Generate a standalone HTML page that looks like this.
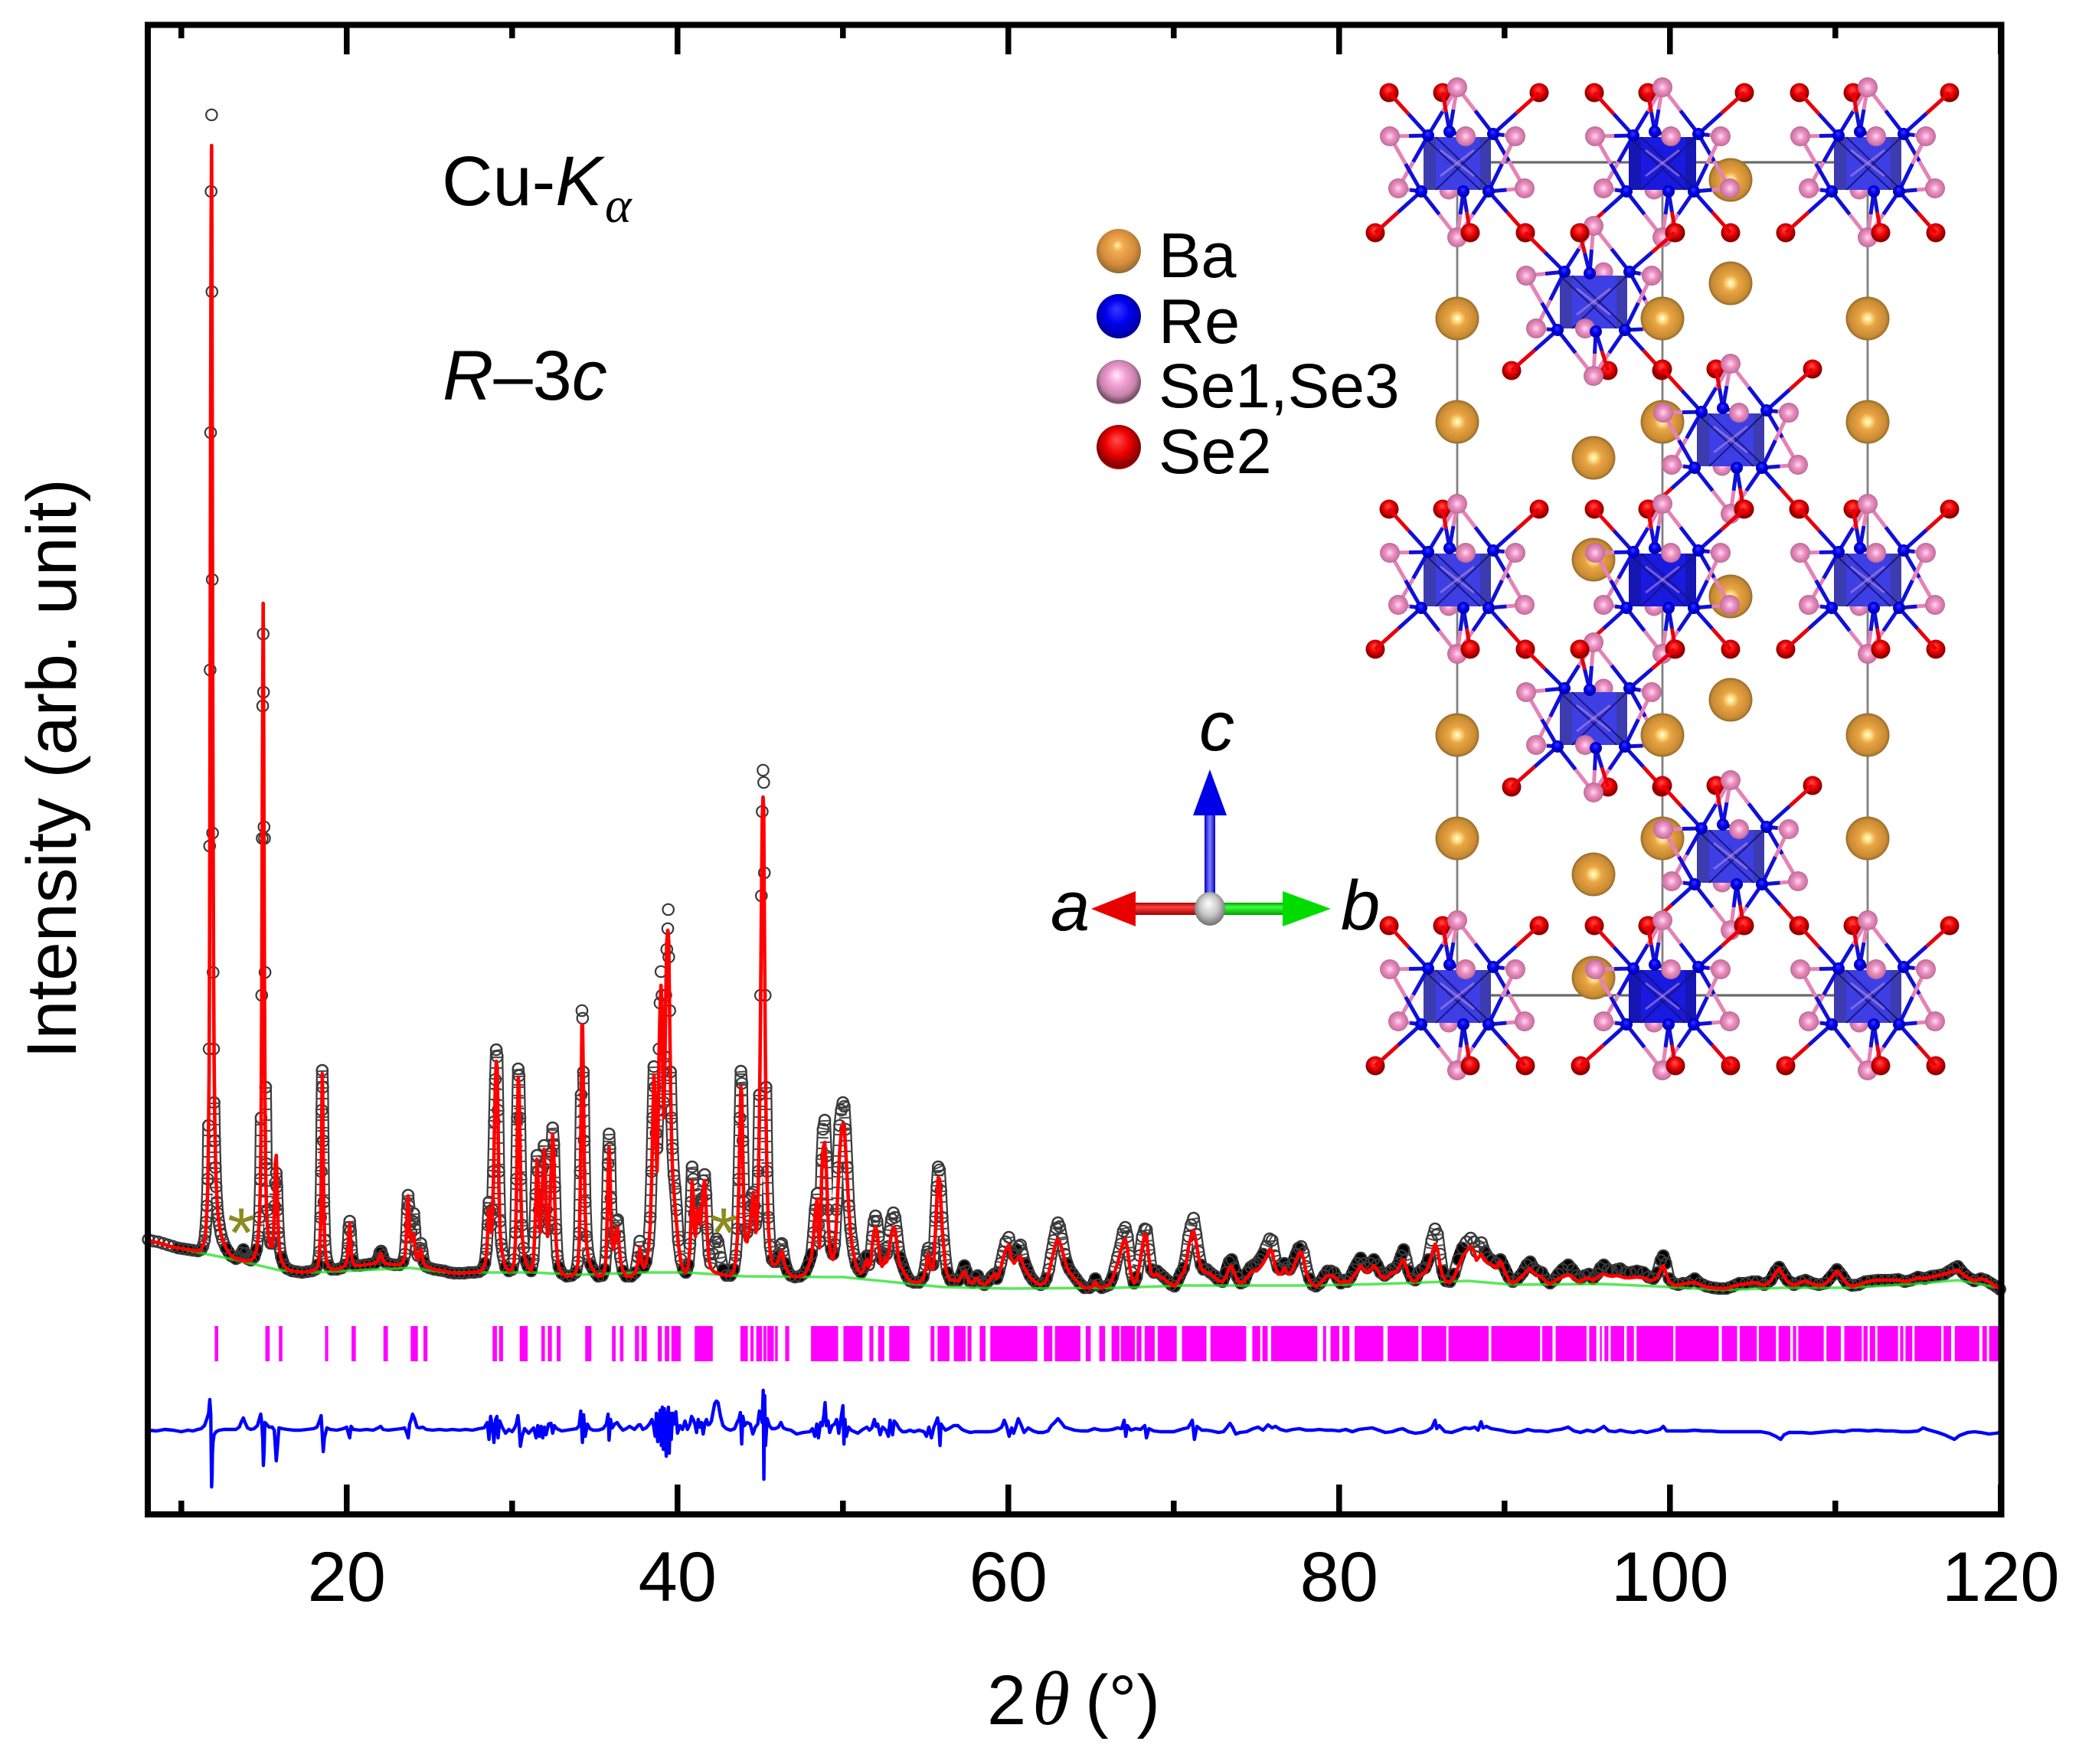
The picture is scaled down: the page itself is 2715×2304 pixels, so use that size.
<!DOCTYPE html>
<html lang="en">
<head>
<meta charset="utf-8">
<title>Rietveld refinement of powder X-ray diffraction pattern</title>
<style>
html,body{margin:0;padding:0;background:#fff;}
svg{display:block;}
text{font-family:"Liberation Sans",sans-serif;fill:#000;}
.it{font-style:italic;}
.serif{font-family:"Liberation Serif",serif;font-style:italic;}
</style>
</head>
<body>
<svg id="chart" xmlns="http://www.w3.org/2000/svg" width="2715" height="2304" viewBox="0 0 2715 2304">
  <defs>
    <radialGradient id="gBa" cx=".5" cy=".45" r=".55" fx=".47" fy=".36"><stop offset="0" stop-color="#fff6b0"/><stop offset=".22" stop-color="#f3ad52"/><stop offset=".7" stop-color="#d58a3a"/><stop offset="1" stop-color="#8f6a34"/></radialGradient>
    <radialGradient id="gBaS" cx=".5" cy=".5" r=".52"><stop offset="0" stop-color="#fffff4"/><stop offset=".14" stop-color="#ffe38a"/><stop offset=".36" stop-color="#eaa544"/><stop offset=".82" stop-color="#c88a32"/><stop offset="1" stop-color="#86622a"/></radialGradient>
    <radialGradient id="gRe" cx=".5" cy=".48" r=".55" fx=".45" fy=".33"><stop offset="0" stop-color="#3a3aff"/><stop offset=".5" stop-color="#0000f0"/><stop offset="1" stop-color="#000090"/></radialGradient>
    <radialGradient id="gSe1" cx=".5" cy=".45" r=".55" fx=".45" fy=".33"><stop offset="0" stop-color="#fff0fa"/><stop offset=".35" stop-color="#f6a2d8"/><stop offset=".72" stop-color="#c583aa"/><stop offset=".95" stop-color="#6d4a62"/><stop offset="1" stop-color="#e9a0cc"/></radialGradient>
    <radialGradient id="gSe1S" cx=".5" cy=".5" r=".52"><stop offset="0" stop-color="#ffdcef"/><stop offset=".42" stop-color="#ee92c6"/><stop offset=".85" stop-color="#cc74a2"/><stop offset="1" stop-color="#a86888"/></radialGradient>
    <radialGradient id="gSe2" cx=".5" cy=".45" r=".55" fx=".45" fy=".33"><stop offset="0" stop-color="#ff5050"/><stop offset=".5" stop-color="#f00000"/><stop offset=".92" stop-color="#7e0000"/><stop offset="1" stop-color="#d00000"/></radialGradient>
    <radialGradient id="gGray" cx=".5" cy=".45" r=".55" fx=".45" fy=".33"><stop offset="0" stop-color="#ffffff"/><stop offset=".55" stop-color="#c8c8c8"/><stop offset="1" stop-color="#707070"/></radialGradient>
    <linearGradient id="gRedRod" x1="0" y1="0" x2="0" y2="1"><stop offset="0" stop-color="#a00000"/><stop offset=".35" stop-color="#ff4040"/><stop offset="1" stop-color="#a00000"/></linearGradient>
    <linearGradient id="gGreenRod" x1="0" y1="0" x2="0" y2="1"><stop offset="0" stop-color="#00a000"/><stop offset=".35" stop-color="#40ff40"/><stop offset="1" stop-color="#00a000"/></linearGradient>
    <linearGradient id="gBlueRod" x1="0" y1="0" x2="1" y2="0"><stop offset="0" stop-color="#0000c0"/><stop offset=".5" stop-color="#8080ff"/><stop offset="1" stop-color="#0000c0"/></linearGradient>
  </defs>

  <g id="structure"></g>
  <g id="series"></g>

  <rect x="193" y="32.5" width="2420.5" height="1945.5" fill="none" stroke="#000" stroke-width="8"/>
  <g id="axes"></g>

  <text transform="translate(99,1004) rotate(-90)" text-anchor="middle" font-size="91.5">Intensity (arb. unit)</text>
  <text x="1289" y="2252" font-size="92">2<tspan class="serif" x="1348" font-size="100">θ</tspan><tspan x="1417">(°)</tspan></text>

  <text x="577" y="268" font-size="92">Cu-<tspan class="it">K</tspan></text>
  <text class="serif" x="790" y="290" font-size="66">α</text>
  <text x="578" y="522" font-size="92"><tspan class="it">R</tspan>–3<tspan class="it">c</tspan></text>

  <text x="315" y="1642" text-anchor="middle" font-size="92" style="fill:#8b8b1e">*</text>
  <text x="945" y="1642" text-anchor="middle" font-size="92" style="fill:#8b8b1e">*</text>

  <g>
    <circle cx="1461" cy="328" r="29" fill="url(#gBa)"/>
    <circle cx="1461" cy="413" r="29" fill="url(#gRe)"/>
    <circle cx="1461" cy="499" r="29" fill="url(#gSe1)"/>
    <circle cx="1461" cy="584" r="29" fill="url(#gSe2)"/>
    <text x="1513" y="362" font-size="83">Ba</text>
    <text x="1513" y="448" font-size="83">Re</text>
    <text x="1513" y="532" font-size="82">Se1,Se3</text>
    <text x="1513" y="618" font-size="83">Se2</text>
  </g>

  <g>
    <rect x="1573" y="1064" width="14" height="104" fill="url(#gBlueRod)"/>
    <polygon points="1580,1005 1602,1065 1558,1065" fill="#0000e8"/>
    <rect x="1482" y="1179" width="84" height="16" fill="url(#gRedRod)"/>
    <polygon points="1425,1187 1483,1164 1483,1210" fill="#e80000"/>
    <rect x="1594" y="1179" width="82" height="16" fill="url(#gGreenRod)"/>
    <polygon points="1738,1187 1675,1164 1675,1210" fill="#00dc00"/>
    <ellipse cx="1580" cy="1187" rx="20" ry="22" fill="url(#gGray)"/>
    <text class="it" x="1566" y="980" font-size="92">c</text>
    <text class="it" x="1372" y="1215" font-size="92">a</text>
    <text class="it" x="1751" y="1214" font-size="92">b</text>
  </g>
</svg>

<script>
const twoTheta = [8.0,8.3,8.6,8.9,9.2,9.5,9.8,10.1,10.4,10.7,11.0,11.2,11.3,11.4,11.45,11.5,11.55,11.6,11.64,11.68,11.71,11.74,11.77,11.8,11.83,11.85,11.87,11.89,11.92,11.95,11.98,12.02,12.06,12.1,12.15,12.2,12.3,12.4,12.5,12.7,13.0,13.3,13.5,13.65,13.75,13.85,14.0,14.2,14.4,14.55,14.65,14.72,14.78,14.82,14.86,14.89,14.92,14.95,14.97,15.0,15.03,15.06,15.1,15.15,15.22,15.3,15.4,15.5,15.58,15.64,15.68,15.74,15.78,15.82,15.88,15.95,16.05,16.2,16.4,16.7,17,17.3,17.6,17.9,18.1,18.25,18.35,18.42,18.46,18.49,18.52,18.55,18.58,18.62,18.68,18.76,18.9,19.1,19.4,19.7,19.9,20.02,20.08,20.13,20.18,20.23,20.29,20.36,20.5,20.8,21.1,21.4,21.7,21.9,22,22.08,22.17,22.3,22.6,22.9,23.2,23.4,23.52,23.6,23.66,23.71,23.76,23.82,23.9,23.98,24.06,24.12,24.2,24.3,24.4,24.48,24.56,24.66,24.8,25,25.3,25.6,25.9,26.2,26.5,26.8,27.1,27.4,27.7,28,28.2,28.35,28.45,28.53,28.6,28.66,28.73,28.8,28.86,28.92,28.98,29.04,29.1,29.15,29.2,29.27,29.35,29.45,29.6,29.8,30,30.12,30.2,30.26,30.31,30.37,30.42,30.47,30.53,30.6,30.7,30.82,30.95,31.15,31.28,31.36,31.43,31.5,31.57,31.63,31.7,31.78,31.85,31.93,32,32.07,32.14,32.22,32.3,32.38,32.45,32.52,32.58,32.65,32.73,32.83,33,33.3,33.6,33.85,33.98,34.06,34.12,34.17,34.22,34.26,34.31,34.36,34.42,34.5,34.6,34.75,34.95,35.2,35.45,35.6,35.68,35.74,35.8,35.86,35.91,35.97,36.03,36.12,36.2,36.3,36.38,36.46,36.55,36.7,36.9,37.2,37.45,37.6,37.72,37.82,37.95,38.1,38.25,38.35,38.43,38.5,38.57,38.63,38.7,38.76,38.82,38.88,38.94,39,39.06,39.12,39.17,39.23,39.29,39.35,39.41,39.44,39.47,39.53,39.58,39.64,39.7,39.78,39.86,39.95,40.05,40.2,40.35,40.5,40.65,40.75,40.82,40.88,40.95,41.02,41.08,41.16,41.24,41.33,41.4,41.48,41.56,41.64,41.72,41.8,41.9,42,42.15,42.28,42.36,42.45,42.6,42.75,42.95,43.2,43.4,43.52,43.62,43.7,43.77,43.83,43.89,43.95,44.02,44.1,44.2,44.32,44.42,44.5,44.58,44.65,44.72,44.8,44.88,44.95,45.02,45.07,45.12,45.17,45.21,45.25,45.3,45.35,45.42,45.5,45.6,45.72,45.85,46,46.12,46.22,46.3,46.38,46.5,46.65,46.85,47.1,47.4,47.7,47.9,48.1,48.22,48.32,48.44,48.52,48.58,48.65,48.72,48.8,48.9,49,49.1,49.2,49.3,49.4,49.5,49.6,49.7,49.8,49.9,50,50.08,50.16,50.26,50.36,50.46,50.56,50.66,50.8,50.95,51.1,51.25,51.38,51.46,51.56,51.68,51.78,51.88,51.97,52.06,52.16,52.26,52.36,52.46,52.56,52.64,52.74,52.84,52.94,53.05,53.15,53.25,53.35,53.45,53.55,53.7,53.85,54.05,54.3,54.6,54.85,55,55.1,55.16,55.24,55.34,55.44,55.52,55.6,55.68,55.76,55.84,55.92,56,56.1,56.2,56.32,56.5,56.7,57,57.2,57.34,57.46,57.65,57.85,58,58.15,58.3,58.55,58.8,59,59.15,59.3,59.42,59.55,59.7,59.85,60.03,60.2,60.35,60.5,60.62,60.74,60.86,61,61.15,61.3,61.5,61.7,61.95,62.15,62.3,62.45,62.6,62.75,62.9,63,63.1,63.25,63.4,63.55,63.7,63.9,64.1,64.3,64.6,64.9,65.1,65.26,65.4,65.65,65.9,66.1,66.3,66.45,66.6,66.8,66.95,67.07,67.2,67.32,67.45,67.6,67.75,67.95,68.1,68.25,68.35,68.5,68.65,68.8,69,69.2,69.4,69.6,69.85,70.05,70.25,70.45,70.6,70.75,70.9,71.05,71.2,71.35,71.5,71.65,71.8,72,72.2,72.45,72.7,72.95,73.15,73.35,73.5,73.65,73.85,74.05,74.25,74.45,74.65,74.85,75,75.2,75.4,75.6,75.8,75.95,76.1,76.3,76.5,76.7,76.85,77,77.2,77.4,77.55,77.7,77.85,78,78.2,78.4,78.6,78.85,79.1,79.3,79.5,79.7,79.9,80.1,80.3,80.5,80.7,80.9,81.1,81.3,81.5,81.7,81.9,82.1,82.3,82.5,82.75,83,83.2,83.4,83.6,83.75,83.9,84.05,84.2,84.4,84.6,84.8,85,85.2,85.4,85.6,85.8,85.95,86.1,86.25,86.45,86.7,86.95,87.2,87.45,87.7,87.95,88.15,88.3,88.45,88.6,88.8,89,89.25,89.5,89.75,90,90.25,90.5,90.8,91.1,91.35,91.55,91.75,92,92.25,92.5,92.75,93,93.25,93.5,93.85,94.1,94.35,94.6,94.85,95.1,95.35,95.6,95.8,96,96.25,96.5,96.8,97,97.3,97.6,98,98.4,98.7,99,99.25,99.45,99.6,99.75,99.95,100.2,100.5,100.8,101.1,101.5,101.8,102.2,102.6,103,103.4,103.8,104.2,104.6,105,105.3,105.7,106.1,106.4,106.6,106.8,107.1,107.5,107.9,108.2,108.6,109,109.4,109.8,110.1,110.4,110.7,111,111.4,111.8,112.2,112.6,113,113.4,113.8,114.2,114.6,115,115.4,115.8,116.2,116.6,116.9,117.2,117.4,117.7,118,118.4,118.8,119.1,119.4,119.7,119.95];
const obsCounts = [81,79,78,76,74,72,70,69,68,67,66,68,72,80,90,104,125,160,230,330,595,825,1135,1450,1550,1319,943,612,430,330,260,210,175,150,130,115,100,88,80,70,60,56,58,64,68,63,56,54,58,68,85,110,160,240,400,605,778,872,796,620,605,430,280,180,120,90,76,76,95,125,155,168,150,120,90,70,58,48,43,40,39,38,39,40,42,48,65,110,170,250,302,280,210,130,80,58,47,42,42,44,48,58,75,97,105,92,68,54,47,47,48,49,50,56,64,66,60,52,49,48,48,52,62,85,120,139,125,100,90,105,115,95,68,60,70,76,66,52,46,44,42,41,40,38,37,37,37,38,38,39,42,50,68,100,130,118,100,120,170,235,290,329,320,250,170,105,75,60,45,40,42,55,90,160,240,304,295,240,160,100,70,54,46,40,55,90,140,191,170,120,105,140,175,204,180,120,95,105,150,195,227,205,150,95,60,45,37,33,34,38,52,90,170,270,380,370,300,210,130,85,62,48,40,33,34,42,65,115,180,219,200,135,90,75,88,105,107,85,58,40,33,33,38,58,79,60,45,52,75,110,170,240,307,280,220,200,250,330,390,431,400,300,260,320,400,460,487,512,450,380,300,240,200,165,148,120,80,55,42,38,48,75,130,176,160,115,95,120,140,130,110,135,158,166,140,95,62,50,62,78,82,78,58,42,34,34,42,60,95,160,240,301,285,210,130,95,90,105,125,140,143,125,100,110,170,270,400,530,640,694,678,560,400,280,170,110,72,55,52,52,60,74,76,66,50,40,34,32,33,38,48,62,90,120,141,100,78,120,185,225,237,190,120,85,68,62,75,120,175,230,250,260,255,225,175,125,95,78,62,48,42,38,45,58,60,48,60,85,105,112,105,85,65,55,62,70,62,72,92,108,116,110,92,72,58,52,42,34,27,25,25,32,48,65,70,62,50,48,70,110,150,176,172,145,110,80,55,38,28,28,28,38,47,40,27,25,32,34,26,22,27,33,36,30,38,50,65,78,84,65,60,68,72,74,62,50,42,34,28,24,22,24,30,42,62,80,96,103,98,82,62,50,42,36,30,24,18,18,21,30,22,18,20,22,32,44,58,75,92,97,85,60,38,24,32,60,85,95,94,68,42,38,40,36,32,28,22,20,28,38,44,60,85,100,109,88,65,48,42,42,38,34,28,26,38,52,55,44,32,24,26,38,45,48,50,55,62,72,82,80,60,44,42,50,45,42,50,62,70,72,64,46,30,22,20,24,34,40,40,38,30,24,28,26,32,42,50,57,50,44,50,55,48,38,34,38,42,44,50,60,68,55,40,30,28,38,42,44,55,80,95,88,62,40,27,26,36,55,70,78,83,78,65,72,77,65,58,54,50,55,44,32,26,30,38,48,52,44,40,38,28,24,28,36,42,48,42,34,30,34,36,30,36,44,48,42,40,42,43,38,38,40,38,32,30,38,54,60,50,30,24,22,24,24,30,24,20,18,17,17,20,24,24,26,26,22,28,40,45,38,28,22,26,28,24,22,24,34,42,34,24,21,22,26,27,28,28,28,29,26,28,32,30,33,34,36,40,44,46,38,32,27,30,28,24,20,16];
const calcCounts = [80,78,77,75,73,71,70,69,68,67,66,68,72,79,88,100,120,150,210,300,480,800,1150,1400,1510,1380,1150,900,620,430,320,240,190,160,135,118,100,88,80,70,60,56,55,54,54,53,53,54,58,68,85,108,150,220,380,610,790,912,830,600,400,260,170,120,95,80,72,72,90,130,180,191,165,120,85,65,54,47,42,40,39,38,39,40,42,46,62,100,165,240,298,270,190,120,72,54,46,42,42,44,47,55,70,92,102,86,62,52,47,47,48,49,50,54,60,63,56,50,49,48,48,52,60,85,120,138,115,90,78,86,88,72,58,55,62,69,60,50,46,44,42,41,40,38,37,37,37,38,38,39,42,48,62,92,122,110,90,105,150,215,280,314,305,235,150,92,70,58,45,40,42,52,80,140,220,293,280,220,140,88,65,52,45,40,52,85,130,186,160,105,90,120,160,199,170,110,85,95,135,185,219,195,130,82,58,45,37,33,34,38,50,80,150,250,362,360,280,190,115,75,58,47,40,33,34,42,60,105,165,202,180,115,78,68,78,95,97,75,53,40,33,33,38,50,71,54,44,50,70,100,155,230,296,270,205,170,230,320,380,413,390,280,240,300,400,470,485,480,470,360,280,210,170,145,120,100,75,52,42,38,46,70,110,158,140,95,85,105,122,115,100,125,150,158,125,85,55,44,40,38,37,37,36,35,34,34,40,55,85,145,220,281,270,190,110,80,78,90,110,128,143,115,90,95,150,240,380,510,630,659,645,500,350,240,150,95,65,50,48,50,56,64,66,58,46,40,34,32,33,36,45,58,85,115,134,90,70,100,170,200,208,170,110,70,58,55,65,100,150,195,220,233,230,200,160,120,90,72,60,46,40,37,42,52,55,45,50,75,92,97,92,72,52,46,50,58,52,58,75,90,97,95,78,58,48,44,38,32,27,25,25,30,42,58,63,52,42,42,60,95,135,162,160,130,95,70,45,34,28,28,27,34,40,34,25,24,30,30,24,22,26,32,36,30,36,44,58,68,74,55,50,55,58,59,50,42,38,32,28,24,22,24,28,38,52,66,78,82,78,68,54,44,38,33,28,23,18,18,20,26,20,18,20,22,30,40,50,66,78,82,70,48,32,24,28,50,72,88,86,56,36,34,36,32,30,26,22,20,26,34,38,50,72,85,93,78,58,44,40,38,36,32,27,26,32,44,46,38,28,24,26,32,38,40,40,44,50,58,68,66,48,36,36,44,38,36,42,54,62,65,56,38,28,22,20,23,30,34,34,32,28,24,27,25,28,34,40,47,42,38,42,47,42,34,30,34,38,38,44,50,55,46,34,28,26,32,36,38,46,62,75,68,48,34,26,25,32,45,58,66,72,66,54,58,62,54,50,48,44,53,40,28,24,28,34,40,43,38,34,32,26,23,26,30,32,35,32,28,26,30,31,27,32,34,36,34,33,34,33,31,31,32,31,28,28,32,42,47,38,26,22,21,23,24,25,22,19,18,17,17,20,22,23,25,24,21,27,38,43,36,26,21,25,27,23,21,23,32,40,32,23,20,22,25,27,28,28,28,28,26,28,31,30,32,34,36,38,40,41,36,31,27,30,28,24,20,16];
const bkgTheta = [8,10.56,13.2,15.9,18,23.85,26,28.6,31.3,33.9,37.9,40.6,44,49,50,56,60,66.6,70.6,78.5,82.5,87.8,90.5,95.9,99.1,103.2,106.7,110.7,114.8,117.4,119.9];
const bkgCounts = [80,66,55,41,38,44,38,38,38,35,38,38,33,32,32,19,17,18,21,21,23,27,22,23,20,15,18,18,23,28,18];
const diffTheta = [8,8.5,9,9.5,10,10.4,10.7,11,11.2,11.4,11.55,11.65,11.72,11.78,11.83,11.86,11.88,11.92,11.98,12.1,12.3,12.6,13,13.3,13.5,13.65,13.75,13.85,14,14.2,14.4,14.6,14.72,14.8,14.86,14.92,14.96,15,15.05,15.15,15.3,15.5,15.62,15.68,15.74,15.8,15.9,16.1,16.4,16.8,17.2,17.6,18,18.2,18.35,18.45,18.52,18.58,18.65,18.8,19,19.4,19.8,20,20.1,20.18,20.26,20.4,20.8,21.2,21.6,21.9,22.05,22.2,22.5,22.9,23.3,23.5,23.62,23.72,23.8,23.9,23.98,24.1,24.25,24.4,24.6,24.8,25.2,25.6,26,26.4,26.8,27.2,27.6,28,28.3,28.5,28.6,28.7,28.8,28.9,29,29.08,29.15,29.25,29.4,29.6,29.8,30,30.15,30.25,30.35,30.42,30.5,30.6,30.75,31,31.3,31.45,31.55,31.65,31.75,31.85,31.95,32.05,32.2,32.35,32.45,32.55,32.7,33,33.3,33.6,33.9,34.05,34.15,34.25,34.32,34.42,34.55,34.7,34.9,35.2,35.5,35.7,35.8,35.86,35.95,36.05,36.2,36.35,36.5,36.7,36.9,37.1,37.4,37.65,37.75,37.9,38.1,38.3,38.45,38.55,38.65,38.72,38.8,38.88,38.95,39.02,39.08,39.14,39.2,39.26,39.32,39.38,39.45,39.5,39.56,39.62,39.7,39.8,39.9,40,40.15,40.3,40.45,40.6,40.75,40.85,40.95,41.05,41.15,41.25,41.35,41.45,41.55,41.65,41.75,41.85,41.95,42.05,42.15,42.25,42.35,42.45,42.6,42.75,42.95,43.2,43.45,43.6,43.72,43.8,43.88,43.95,44.05,44.2,44.4,44.55,44.7,44.85,44.95,45.05,45.12,45.18,45.22,45.27,45.32,45.42,45.55,45.7,45.9,46.1,46.25,46.4,46.6,46.85,47.2,47.6,48,48.15,48.3,48.42,48.52,48.65,48.75,48.85,48.92,49,49.1,49.2,49.35,49.5,49.62,49.75,49.9,50,50.06,50.12,50.2,50.35,50.5,50.7,50.9,51.2,51.45,51.6,51.75,51.9,52,52.1,52.25,52.4,52.6,52.75,52.85,53,53.1,53.25,53.4,53.6,53.8,54.05,54.3,54.6,54.9,55.05,55.2,55.35,55.5,55.62,55.72,55.8,55.87,55.93,56.05,56.2,56.4,56.7,56.95,57.2,57.4,57.7,58,58.3,58.6,58.9,59.2,59.4,59.6,59.75,59.9,60.05,60.2,60.32,60.45,60.6,60.75,60.95,61.2,61.5,61.8,62.1,62.4,62.6,62.8,63,63.2,63.4,63.7,64,64.4,64.8,65.2,65.6,66,66.3,66.6,66.85,67,67.1,67.2,67.4,67.7,68,68.25,68.35,68.5,68.8,69.2,69.6,70,70.3,70.6,70.85,71,71.12,71.25,71.4,71.7,72,72.3,72.7,73,73.2,73.4,73.55,73.75,74,74.4,74.8,75.1,75.4,75.7,75.95,76.15,76.45,76.8,77.2,77.6,78,78.4,78.8,79.2,79.6,80,80.4,80.8,81.2,81.6,82,82.4,82.8,83.2,83.6,83.85,84.2,84.6,85,85.3,85.6,85.8,85.9,86.05,86.4,86.8,87.2,87.6,87.9,88.2,88.4,88.58,88.7,88.9,89.2,89.5,89.8,90.2,90.6,91,91.4,91.8,92.2,92.6,93,93.4,93.85,94.2,94.6,95,95.4,95.8,96,96.3,96.7,97,97.4,97.8,98.2,98.6,99,99.4,99.6,99.8,100.2,100.6,101,101.5,102,102.5,103,103.5,104,104.5,105,105.5,106,106.4,106.7,106.9,107.2,107.6,108,108.5,109,109.5,110,110.5,111,111.5,112,112.5,113,113.5,114,114.5,115,115.3,115.7,116.2,116.6,117,117.2,117.5,118,118.4,118.8,119.3,119.7,120];
const diffCounts = [0,-1,1,0,-2,0,-1,1,2,6,15,22,40,20,-74,-60,-30,-15,-6,-2,0,1,1,1,4,12,16,10,3,1,2,6,15,21,10,-10,-46,-30,10,8,4,4,0,-20,-40,-25,3,2,1,0,0,1,2,4,12,19,-5,-28,-10,3,1,0,2,4,-4,-10,5,1,0,1,0,3,5,1,0,1,2,3,-3,-10,8,14,21,15,4,3,4,1,0,1,0,1,0,1,0,2,3,10,-12,18,6,-16,14,18,-10,12,4,-4,1,-2,3,8,19,5,-21,-8,2,-4,3,-10,6,-8,5,-10,4,-6,8,9,-4,6,2,-1,0,1,2,6,25,-16,20,-8,8,2,0,0,2,8,21,-13,14,3,8,10,5,0,2,5,1,7,7,1,3,8,14,6,-8,22,-15,10,26,-20,30,-25,28,-10,-34,18,30,-30,22,-12,22,8,24,-4,6,1,12,1,8,18,14,8,-3,14,4,10,-5,9,14,7,8,12,24,35,38,36,18,6,2,0,2,10,15,23,-18,18,6,10,8,-5,4,8,25,20,10,52,-64,45,-20,15,6,2,2,4,10,3,1,0,-5,-3,-2,2,-8,8,-10,10,6,20,36,6,12,-3,6,8,14,-4,18,32,-18,14,-8,4,0,-2,-4,1,4,0,3,14,5,8,-6,4,0,-8,13,-6,12,8,2,-2,-2,0,-2,0,-2,-8,4,-10,4,10,16,6,-20,8,4,0,2,6,6,1,-1,-3,-2,-2,-2,-2,-1,1,4,13,5,-8,3,-4,4,15,8,-3,3,-1,-3,-3,-1,6,10,15,10,4,2,0,-1,-1,2,0,0,1,3,2,13,-8,6,0,2,1,6,-10,2,-1,-2,-2,-2,0,2,3,8,13,-12,5,0,0,-1,-3,-2,3,9,4,-5,-3,-2,2,4,0,7,3,5,1,-1,1,2,0,0,1,0,0,-1,1,-2,1,2,3,0,-3,-2,1,2,-2,-4,-3,-1,3,13,2,6,-2,-3,0,3,2,4,0,11,3,5,2,1,0,-2,-3,-2,1,-1,-1,-2,0,1,4,-1,-3,0,-2,2,5,-1,-2,0,-2,-3,-1,-3,-1,1,5,-1,-1,-1,-1,0,-1,-1,-2,-2,-2,-2,-2,-2,-4,-8,-12,-6,-3,-3,-3,-4,-3,-2,-1,-2,0,0,-1,0,-1,-1,-2,-2,-1,3,0,-3,-6,-10,-12,-7,-3,-2,-3,-5,-4,-3];
const reflStart = [12.02,15.08,15.9,18.69,20.29,22.22,23.87,24.64,28.82,29.21,30.46,31.77,32.16,32.7,34.42,36.04,36.52,37.43,37.82,38.81,39.23,39.63,41.04,43.8,44.41,44.76,45.19,45.42,45.9,46.51,48.07,50.03,51.6,52.13,52.8,55.3,55.72,56.7,57.53,58.27,58.91,62.15,62.82,64.68,65.5,66.24,66.8,67.76,68.24,69.03,70.5,72.22,74.75,75.36,75.89,79.03,79.48,80.2,80.94,82.93,84.98,86.61,89.2,92.28,93.09,95.12,95.77,96.04,96.42,97.39,97.98,100.33,103.14,104.22,105.38,106.57,107.44,107.76,109.46,110.54,111.7,112.08,112.54,113.92,114.24,114.79,116.54,117.22,118.89,119.3];
const reflEnd = [12.23,15.34,16.11,18.88,20.55,22.49,24.3,24.88,29.08,29.45,30.94,31.98,32.4,32.93,34.79,36.26,36.73,37.67,38.14,39.05,39.5,40.19,42.13,44.25,44.6,45.11,45.37,45.82,46.06,46.75,49.71,51.18,51.84,52.5,54.02,55.53,56.44,57.42,57.77,58.62,61.75,62.66,64.36,64.98,65.85,66.72,67.65,68.05,68.85,70.18,71.98,74.38,75.23,75.68,78.68,79.21,80.01,80.62,82.67,84.79,86.48,89.04,92.15,92.9,94.96,95.55,95.88,96.28,97.23,97.82,100.2,102.95,104.06,105.25,106.41,107.28,107.63,109.3,110.33,111.6,111.95,112.41,113.79,114.11,114.65,116.4,117,118.7,119.16,120];
const majorTicks = [20,40,60,80,100,120];
const minorTicks = [10,30,50,70,90,110];
const tickLabels = ["20","40","60","80","100","120"];

const SVGNS = 'http://www.w3.org/2000/svg';
function mk(tag, attrs, parent) {
  const e = document.createElementNS(SVGNS, tag);
  for (const k in attrs) e.setAttribute(k, attrs[k]);
  parent.appendChild(e);
  return e;
}
function xScale(v) { return 452.8 + (v - 20) * 21.6; }
function yScale(v) { return 1700 - v; }
function diffScale(v) { return 1868 - v; }
function pathOf(xs, ys, fy) {
  let d = '';
  const n = Math.min(xs.length, ys.length);
  for (let i = 0; i < n; i++) d += (i ? 'L' : 'M') + xScale(xs[i]).toFixed(2) + ' ' + fy(ys[i]).toFixed(1);
  return d;
}

/* axes */
const axesG = document.getElementById('axes');
function drawTick(v, len, name) {
  const x = xScale(v);
  [[1976, -len], [34, len]].forEach(function (s) {
    const tick = mk('line', {x1:x, x2:x, y1:s[0], y2:s[0] + s[1], stroke:'#000', 'stroke-width':7.5}, axesG);
    
    
  });
}
majorTicks.forEach(function (v) { drawTick(v, 37, 'x-major-tick'); });
minorTicks.forEach(function (v) { drawTick(v, 16, 'x-minor-tick'); });
tickLabels.forEach(function (label, i) {
  const t = mk('text', {x:xScale(majorTicks[i]), y:2091, 'text-anchor':'middle', 'font-size':92}, axesG);
  
  
  t.textContent = label;
});

/* series */
const seriesG = document.getElementById('series');
const nPts = Math.min(twoTheta.length, obsCounts.length, calcCounts.length);

let bandD = '', stackD = '';
for (let i = 1; i < nPts; i++) {
  const x0 = xScale(twoTheta[i - 1]), x1 = xScale(twoTheta[i]);
  const y0 = yScale(obsCounts[i - 1]), y1 = yScale(obsCounts[i]);
  const top = Math.max(obsCounts[i - 1], obsCounts[i]);
  const seg = 'M' + x0.toFixed(2) + ' ' + y0.toFixed(1) + 'L' + x1.toFixed(2) + ' ' + y1.toFixed(1);
  if (top < 72 && Math.abs(y1 - y0) <= 3.5 * Math.abs(x1 - x0)) bandD += seg;
  else if (top < 330) stackD += seg;
}
const stackOuter = mk('path', {d:stackD, fill:'none', stroke:'#3a3a3a', 'stroke-width':16, 'stroke-linecap':'round'}, seriesG);


const stackInner = mk('path', {d:stackD, fill:'none', stroke:'#fff', 'stroke-width':11.5, 'stroke-linecap':'round'}, seriesG);


const stackRungs = mk('path', {d:stackD, fill:'none', stroke:'#4a4a4a', 'stroke-width':15, 'stroke-dasharray':'2 12'}, seriesG);


const band = mk('path', {d:bandD, fill:'none', stroke:'#000', 'stroke-width':16, 'stroke-linecap':'round'}, seriesG);



const obsG = mk('g', {fill:'none', stroke:'#3a3a3a', 'stroke-width':2.2}, seriesG);


for (let i = 0; i < nPts; i++) {
  const c = mk('circle', {cx:xScale(twoTheta[i]).toFixed(2), cy:yScale(obsCounts[i]).toFixed(1), r:7.2}, obsG);
  
  
}

const bkgLine = mk('path', {d:pathOf(bkgTheta, bkgCounts, yScale), fill:'none', stroke:'#22e022', 'stroke-opacity':.75, 'stroke-width':3.5}, seriesG);



const calcLine = mk('path', {d:pathOf(twoTheta, calcCounts, yScale), fill:'none', stroke:'#ff0000', 'stroke-width':4.6, 'stroke-linejoin':'round'}, seriesG);



const reflG = mk('g', {fill:'#ff00ff'}, seriesG);


reflStart.forEach(function (s, i) {
  const x0 = xScale(s), x1 = xScale(reflEnd[i]);
  const r = mk('rect', {x:x0.toFixed(2), y:1732, width:(x1 - x0).toFixed(2), height:46}, reflG);
  
  
});

const diffLine = mk('path', {d:pathOf(diffTheta, diffCounts, diffScale), fill:'none', stroke:'#0000ff', 'stroke-width':4.4, 'stroke-linejoin':'round'}, seriesG);



/* crystal structure inset */
const sG = document.getElementById('structure');
const latticeX = [1903, 2171, 2439];
const latticeY = [212, 1300];
latticeX.forEach(function (x) {
  const l = mk('line', {x1:x, x2:x, y1:latticeY[0], y2:latticeY[1], stroke:'#808080', 'stroke-width':2.8}, sG);
  
  
});
latticeY.forEach(function (y) {
  const l = mk('line', {x1:latticeX[0], x2:latticeX[2], y1:y, y2:y, stroke:'#6a6a6a', 'stroke-width':3.2}, sG);
  
  
});

const baBack = [[2260,235],[2260,370],[2081,598],[2081,731],[1903,416],[2439,416],[1903,551],[2171,551],[2439,551],[2260,779],[2260,914],[2081,1142],[2081,1277],[1903,960],[2439,960],[1903,1095],[2171,1095],[2439,1095]];
const baFront = [[2171,416],[2171,960]];
function drawBa(p) {
  const e = mk('circle', {cx:p[0], cy:p[1], r:28.5, fill:'url(#gBaS)'}, sG);
  
  
}
baBack.forEach(drawBa);

const motifs = {
  A: {
    re: [[-38,-35],[47,-37],[-47,38],[8,38],[41,38],[-10,-40]],
    pink: [[0,-98],[-88,-34],[11,-34],[76,-34],[-77,34],[88,34],[-11,36],[0,98]],
    red: [[-89,-91],[-19,-91],[107,-91],[-107,92],[17,92],[89,92]],
    redBond: [[0,0],[5,1],[1,2],[2,3],[3,4],[4,5]],
    pinkBond: [[0,0],[1,0],[5,0],[2,7],[4,7],[3,7],[0,4],[1,5],[2,1],[4,3],[0,1],[1,3],[2,4],[4,5],[5,2]],
    pinkBack: [6], pinkMid: [7,1,3,4,5,2,0], redEarly: [0,1,2,3,5], redLate: [4], pinkLast: []
  },
  B: {
    re: [[-38,-38],[-5,-36],[47,-38],[-47,38],[41,38],[3,40]],
    pink: [[0,-98],[-88,-33],[13,-38],[76,-33],[-75,36],[-11,36],[88,36],[0,98]],
    red: [[-89,-89],[-18,-89],[106,-89],[-107,91],[19,91],[89,91]],
    redBond: [[0,0],[1,1],[2,2],[3,3],[5,4],[4,5]],
    pinkBond: [[0,0],[2,0],[1,0],[3,7],[4,7],[5,7],[0,4],[2,6],[3,1],[4,3],[0,1],[2,3],[3,4],[4,6]],
    pinkBack: [2,6], pinkMid: [0,1,3,4,5], redEarly: [0,2,3,4,5], redLate: [1], pinkLast: [7]
  }
};

function halfBond(a, b, colorB, name) {
  const mx = (a[0] + b[0]) / 2, my = (a[1] + b[1]) / 2;
  [[a[0], a[1], mx, my, '#1010d8'], [mx, my, b[0], b[1], colorB]].forEach(function (s) {
    const l = mk('line', {x1:s[0], y1:s[1], x2:s[2], y2:s[3], stroke:s[4], 'stroke-width':5}, sG);
    
    
  });
}
function ball(p, r, grad, name) {
  const e = mk('circle', {cx:p[0], cy:p[1], r:r, fill:grad}, sG);
  
  
}
function drawCluster(cx, cy, kind, dark) {
  const m = motifs[kind];
  const at = function (p) { return [cx + p[0], cy + p[1]]; };
  m.pinkBack.forEach(function (i) { ball(at(m.pink[i]), 12.5, 'url(#gSe1S)', 'se1-atom'); });

  const outer = mk('rect', {x:cx - 44, y:cy - 33, width:88, height:69, fill: dark ? '#1616b4' : '#3c3cb0'}, sG);
  
  
  const inner = mk('rect', {x:cx - 28, y:cy - 33, width:58, height:69, fill: dark ? '#1a1ae6' : '#3e3eee', opacity:.85}, sG);
  
  
  [[-44,-33,30,36,'#14147a',1.8,1],[44,-33,-28,36,'#14147a',1.8,1],[-28,-33,44,36,'#14147a',1.8,1],[-22,-16,22,18,'#b58ad8',3,.6],[-22,18,22,-16,'#b58ad8',3,.6]].forEach(function (s) {
    const l = mk('line', {x1:cx + s[0], y1:cy + s[1], x2:cx + s[2], y2:cy + s[3], stroke:s[4], 'stroke-width':s[5], opacity:s[6]}, sG);
    
    
  });

  m.redEarly.forEach(function (i) { ball(at(m.red[i]), 12.5, 'url(#gSe2)', 'se2-atom'); });
  m.pinkBond.forEach(function (b) { halfBond(at(m.re[b[0]]), at(m.pink[b[1]]), '#e582b6', 're-se1-bond'); });
  m.redBond.forEach(function (b) { halfBond(at(m.re[b[0]]), at(m.red[b[1]]), '#e8000c', 're-se2-bond'); });
  m.pinkMid.forEach(function (i) { ball(at(m.pink[i]), 13, 'url(#gSe1S)', 'se1-atom'); });
  m.re.forEach(function (p) { ball(at(p), 8, 'url(#gRe)', 're-atom'); });
  m.redLate.forEach(function (i) { ball(at(m.red[i]), 12.5, 'url(#gSe2)', 'se2-atom'); });
  m.pinkLast.forEach(function (i) { ball(at(m.pink[i]), 13, 'url(#gSe1S)', 'se1-atom'); });
}
const clusterSites = [[1903,212,'A',0],[2171,212,'A',1],[2439,212,'A',0],[2081,393,'B',0],[2260,573,'A',0],[1903,756,'A',0],[2171,756,'A',1],[2439,756,'A',0],[2081,937,'B',0],[2260,1117,'A',0],[1903,1300,'A',0],[2171,1300,'A',1],[2439,1300,'A',0]];
clusterSites.forEach(function (c) { drawCluster(c[0], c[1], c[2], c[3]); });
baFront.forEach(drawBa);
</script>
</body>
</html>
